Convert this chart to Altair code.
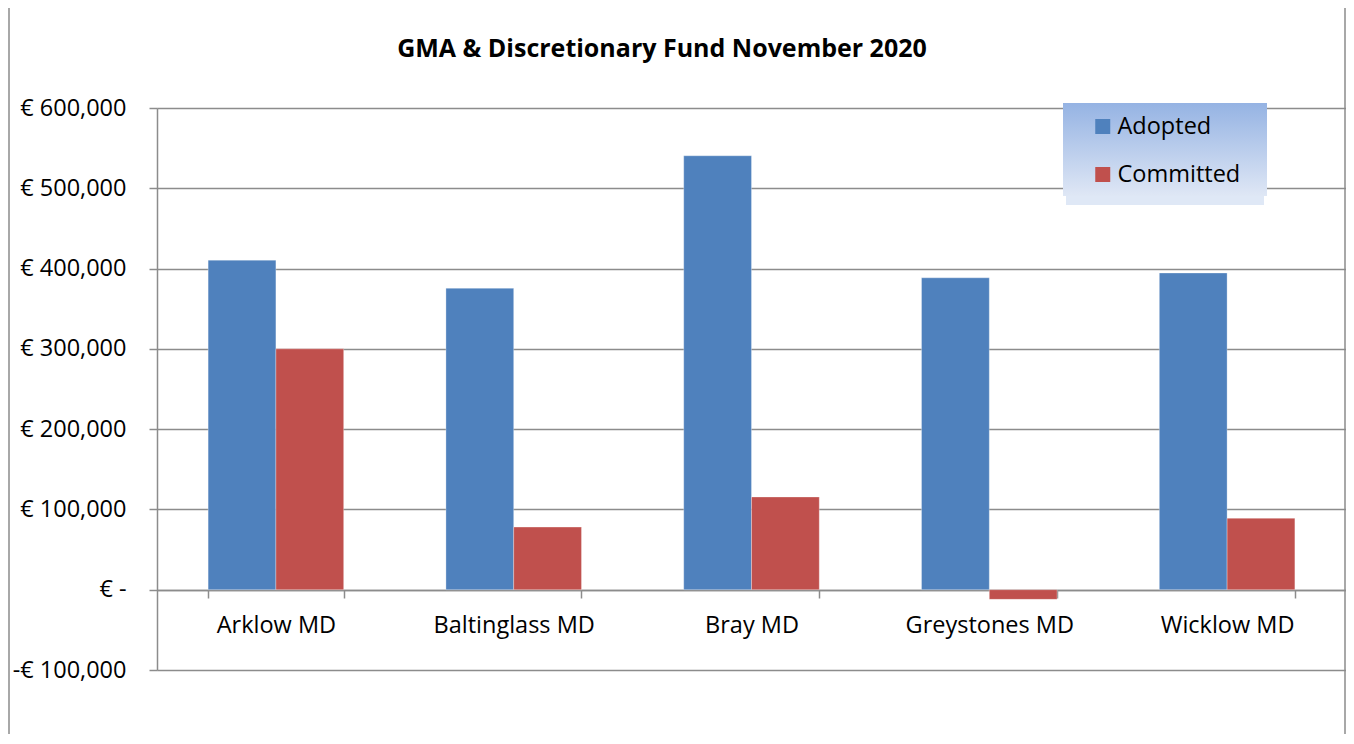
import altair as alt
import pandas as pd

categories = ["Arklow MD", "Baltinglass MD", "Bray MD", "Greystones MD", "Wicklow MD"]
series = ["Adopted", "Committed"]
adopted = [410500, 375500, 540500, 388500, 394500]
committed = [300000, 78000, 115500, -12000, 89000]
colors = ["#4F81BD", "#C0504D"]
y_ticks = [-100000, 0, 100000, 200000, 300000, 400000, 500000, 600000]
title_text = "GMA & Discretionary Fund November 2020"

rows = []
for c, a, m in zip(categories, adopted, committed):
    rows.append({"district": c, "series": "Adopted", "value": a})
    rows.append({"district": c, "series": "Committed", "value": m})
df = pd.DataFrame(rows)

W, H = 1189, 562
FONT = "Open Sans, Lato, sans-serif"
FS = 23.5
GRAY = "#8C8C8C"
one = alt.Data(values=[{}])

label_expr = ("datum.value == 0 ? '€ -\u00a0\u00a0\u00a0' : (datum.value < 0 ? '-€ ' + format(-datum.value, ',') "
              ": '€ ' + format(datum.value, ','))")

frame = alt.Chart(one).mark_rect(fill=None, stroke=GRAY, strokeWidth=1.5).encode(
    x=alt.value(-148), x2=alt.value(W - 1), y=alt.value(-101), y2=alt.value(H + 120)
)

title = alt.Chart(one).mark_text(
    fontSize=25, font=FONT, fontWeight="bold", color="black", align="center", baseline="middle"
).encode(x=alt.value(505), y=alt.value(-59), text=alt.value(title_text))

shadow = alt.Chart(one).mark_rect(color="#C9D8F0", opacity=0.6).encode(
    x=alt.value(909), x2=alt.value(1107), y=alt.value(88), y2=alt.value(97)
)
legend_bg = alt.Chart(one).mark_rect(
    color=alt.Gradient(
        gradient="linear",
        stops=[alt.GradientStop(color="#95B3E3", offset=0),
               alt.GradientStop(color="#DFE7F5", offset=1)],
        x1=0, x2=0, y1=0, y2=1,
    )
).encode(x=alt.value(906), x2=alt.value(1110), y=alt.value(-5), y2=alt.value(88))

bars = alt.Chart(df).mark_bar(stroke="#FFFFFF", strokeWidth=0.5, strokeOpacity=0.6).encode(
    x=alt.X("district:N", sort=categories,
            scale=alt.Scale(paddingInner=0.43, paddingOuter=0.215),
            axis=alt.Axis(title=None, orient="bottom", offset=-80, labelFontSize=FS,
                          labelColor="black", labelPadding=15, tickSize=8, tickColor=GRAY,
                          domainColor=GRAY, domainWidth=1.5, tickWidth=1.5, tickBand="extent",
                          labelAngle=0, grid=False, labelFont=FONT)),
    xOffset=alt.XOffset("series:N", sort=series,
                        scale=alt.Scale(paddingInner=0, paddingOuter=0)),
    y=alt.Y("value:Q", scale=alt.Scale(domain=[-100000, 600000], nice=False, zero=False),
            axis=alt.Axis(title=None, values=y_ticks, labelExpr=label_expr, labelFontSize=FS,
                          labelColor="black", labelPadding=23, tickSize=8, tickColor=GRAY,
                          tickWidth=1.5, domainColor=GRAY, domainWidth=1.5, gridColor=GRAY,
                          gridWidth=1.5, labelFont=FONT)),
    color=alt.Color("series:N", sort=series,
                    scale=alt.Scale(domain=series, range=colors),
                    legend=alt.Legend(title=None, orient="none", legendX=934, legendY=6.75,
                                      symbolType="square", symbolSize=225, symbolStrokeWidth=0,
                                      labelFontSize=FS, labelFont=FONT, labelColor="black",
                                      labelOffset=3, rowPadding=23, padding=0)),
)

chart = alt.layer(frame, title, shadow, legend_bg, bars).properties(
    width=W, height=H,
    padding={"left": 149, "top": 100, "right": 0, "bottom": 64},
    autosize=alt.AutoSizeParams(type="none"),
).configure_view(stroke=None).configure(font=FONT)

chart.save("out.html", embed_options={"renderer": "svg", "actions": False})
